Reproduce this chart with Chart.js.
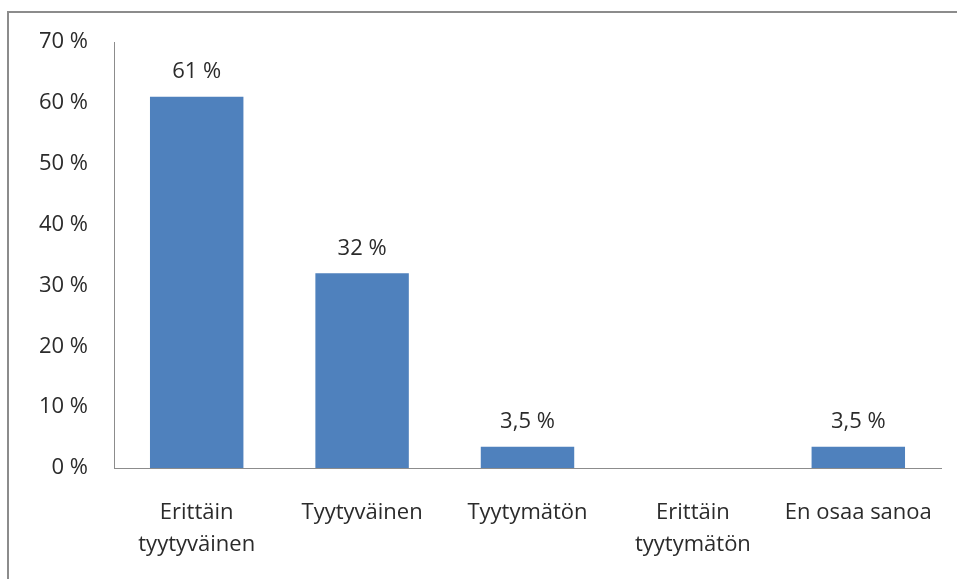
<!DOCTYPE html>
<html>
<head>
<meta charset="utf-8">
<script src="https://cdn.jsdelivr.net/npm/chart.js@4"></script>
<style>
  html, body { margin: 0; padding: 0; background: #fff; overflow: hidden; }
  #wrap { position: relative; width: 957px; height: 579px; }
  #frame {
    position: absolute; left: 7px; top: 11px; width: 1000px; height: 700px;
    border-top: 2px solid #8c8c8c; border-left: 2px solid #8c8c8c;
  }
  canvas { position: absolute; left: 0; top: 0; }
</style>
</head>
<body>
<div id="wrap">
  <div id="frame"></div>
  <canvas id="chart" width="957" height="579"></canvas>
</div>
<script>
// categories (multi-line labels) and the values
const categories = [
  ["Erittäin", "tyytyväinen"],
  "Tyytyväinen",
  "Tyytymätön",
  ["Erittäin", "tyytymätön"],
  "En osaa sanoa"
];
const values = [61, 32, 3.5, 0, 3.5];
const valueLabels = ["61 %", "32 %", "3,5 %", "", "3,5 %"];
const yTickLabels = ["0 %", "10 %", "20 %", "30 %", "40 %", "50 %", "60 %", "70 %"];

const textColor = "#2b2b2b";
const fontFamily = "'Open Sans', 'Noto Sans', sans-serif";
const fontSize = 22;

// draws the value above each bar
const barLabels = {
  id: "barLabels",
  afterDatasetsDraw(chart) {
    const ctx = chart.ctx;
    const meta = chart.getDatasetMeta(0);
    ctx.save();
    ctx.font = fontSize + "px " + fontFamily;
    ctx.fillStyle = textColor;
    ctx.textAlign = "center";
    ctx.textBaseline = "middle";
    meta.data.forEach((bar, i) => {
      if (!valueLabels[i]) return;
      ctx.fillText(valueLabels[i], bar.x, bar.y - 25);
    });
    ctx.restore();
  }
};

new Chart(document.getElementById("chart").getContext("2d"), {
  type: "bar",
  data: {
    labels: categories,
    datasets: [{
      data: values,
      backgroundColor: "#4F81BD",
      borderWidth: 0,
      categoryPercentage: 1,
      barPercentage: 0.565
    }]
  },
  options: {
    responsive: false,
    animation: false,
    layout: { padding: { top: 42, right: 16, bottom: 0, left: 0 } },
    plugins: {
      legend: { display: false },
      tooltip: { enabled: false }
    },
    scales: {
      x: {
        grid: { display: false, drawTicks: false },
        border: { display: true, color: "#8c8c8c", width: 1 },
        ticks: {
          color: textColor,
          font: { family: fontFamily, size: fontSize, lineHeight: 1.45 },
          padding: 29,
          maxRotation: 0,
          autoSkip: false
        },
        afterFit(scale) {
          scale.height = 111;
          // keep the plot edges where the reference has them
          scale.paddingLeft = 0;
          scale.paddingRight = 0;
        }
      },
      y: {
        min: 0,
        max: 70,
        grid: { display: false, drawTicks: false },
        border: { display: true, color: "#8c8c8c", width: 1 },
        ticks: {
          stepSize: 10,
          color: textColor,
          font: { family: fontFamily, size: fontSize },
          padding: 26,
          callback: (v, i) => yTickLabels[i]
        },
        afterFit(scale) { scale.width = 114; }
      }
    }
  },
  plugins: [barLabels]
});
</script>
</body>
</html>
